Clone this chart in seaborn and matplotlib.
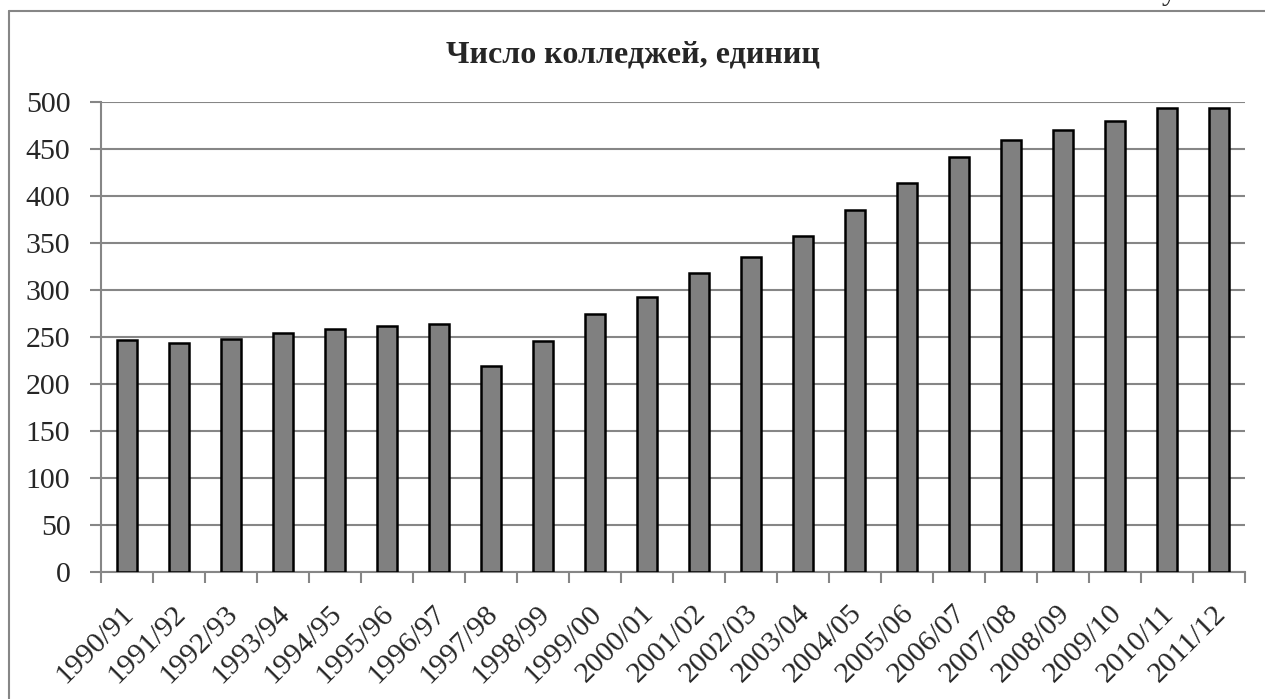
import numpy as np
import pandas as pd
import matplotlib.pyplot as plt
import matplotlib.transforms as mtransforms
import seaborn as sns


years = ['1990/91', '1991/92', '1992/93', '1993/94', '1994/95', '1995/96',
         '1996/97', '1997/98', '1998/99', '1999/00', '2000/01', '2001/02',
         '2002/03', '2003/04', '2004/05', '2005/06', '2006/07', '2007/08',
         '2008/09', '2009/10', '2010/11', '2011/12']
colleges = [247, 244, 248, 254, 258, 262, 264, 219, 246, 275, 293, 318,
            335, 357, 385, 414, 442, 460, 470, 480, 494, 494]
y_ticks = [0, 50, 100, 150, 200, 250, 300, 350, 400, 450, 500]
title = 'Число колледжей, единиц'

grey = '#868686'

sns.set_style('white')
plt.rcParams['font.family'] = ['Liberation Serif', 'DejaVu Serif']

df = pd.DataFrame({'year': years, 'count': colleges})

fig = plt.figure(figsize=(12.65, 6.99), dpi=100)
ax = fig.add_axes([101 / 1265, 1 - 572 / 699, (1245 - 101) / 1265, (572 - 102) / 699])

sns.barplot(data=df, x='year', y='count', color='#808080', saturation=1,
            edgecolor='black', linewidth=1.8, width=0.4, ax=ax, zorder=3)

ax.set_xlim(-0.5, len(years) - 0.5)
ax.set_ylim(0, 500)
ax.set_yticks(y_ticks)
ax.yaxis.grid(True, color=grey, linewidth=1.5, zorder=0)
ax.set_axisbelow(True)
ax.set_xlabel('')
ax.set_ylabel('')

for s in ['top', 'right']:
    ax.spines[s].set_visible(False)
for s in ['left', 'bottom']:
    ax.spines[s].set_color(grey)
    ax.spines[s].set_linewidth(1.5)

ax.set_xticks(np.arange(-0.5, len(years), 1), minor=True)
ax.tick_params(axis='x', which='major', length=0, pad=27, labelsize=21.5)
ax.tick_params(axis='x', which='minor', length=8, width=1.5, color=grey, direction='out', bottom=True)
ax.tick_params(axis='y', length=8, width=1.5, color=grey, direction='out', left=True, pad=14, labelsize=21.5)
shift = mtransforms.ScaledTranslation(3 / 100, 0, fig.dpi_scale_trans)
for lbl in ax.get_xticklabels():
    lbl.set_rotation(45)
    lbl.set_ha('right')
    lbl.set_va('center')
    lbl.set_rotation_mode('anchor')
    lbl.set_transform(lbl.get_transform() + shift)

fig.text(0.5, 1 - 55 / 699, title, ha='center', va='center', fontsize=23, fontweight='bold')

# outer frame of the chart block (cut off at right and bottom)
fig.add_artist(plt.Line2D([8.5 / 1265, 8.5 / 1265], [0, 1 - 10.5 / 699], color=grey, linewidth=1.5))
fig.add_artist(plt.Line2D([8.5 / 1265, 1.0], [1 - 10.5 / 699, 1 - 10.5 / 699], color=grey, linewidth=1.5))
# tail of a letter from the line of text above
fig.text(1162 / 1265, 1 + 1 / 699, 'у', ha='left', va='baseline', fontsize=22)

fig.savefig('out.png', dpi=100)
